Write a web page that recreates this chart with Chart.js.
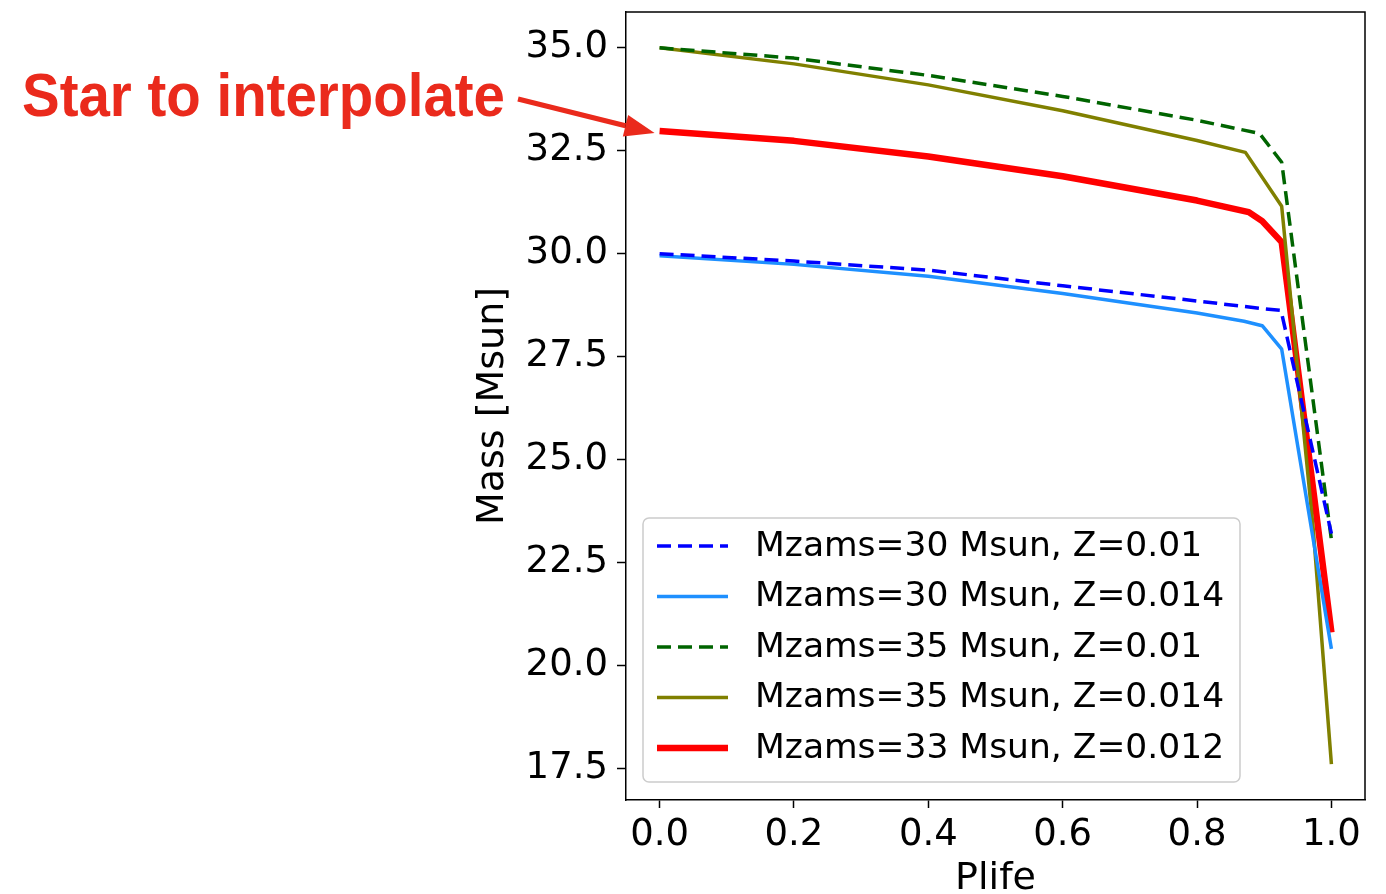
<!DOCTYPE html>
<html>
<head>
<meta charset="utf-8">
<script src="https://cdn.jsdelivr.net/npm/chart.js@4/dist/chart.umd.min.js"></script>
<style>
  html, body { margin: 0; padding: 0; background: #fff; }
  #wrap { width: 1386px; height: 894px; }
</style>
</head>
<body>
<div id="wrap"><canvas id="myChart" width="1386" height="894"></canvas></div>
<script>
// values
var labels = ['Mzams=30 Msun, Z=0.01', 'Mzams=30 Msun, Z=0.014', 'Mzams=35 Msun, Z=0.01', 'Mzams=35 Msun, Z=0.014', 'Mzams=33 Msun, Z=0.012'];

var plife30a = [0, 0.2, 0.4, 0.6, 0.8, 0.9, 0.925, 1.0];
var mass30a  = [30.0, 29.82, 29.6, 29.22, 28.85, 28.66, 28.62, 23.2];

var plife30b = [0, 0.2, 0.4, 0.6, 0.8, 0.87, 0.897, 0.926, 1.0];
var mass30b  = [29.95, 29.74, 29.45, 29.03, 28.56, 28.36, 28.25, 27.68, 20.4];

var plife35a = [0, 0.2, 0.4, 0.6, 0.8, 0.893, 0.926, 1.0];
var mass35a  = [35.0, 34.75, 34.33, 33.82, 33.24, 32.92, 32.22, 23.05];

var plife35b = [0, 0.2, 0.4, 0.6, 0.8, 0.872, 0.926, 0.973, 1.0];
var mass35b  = [35.0, 34.61, 34.1, 33.47, 32.75, 32.46, 31.15, 23.3, 17.6];

var plife33 = [0, 0.2, 0.4, 0.6, 0.8, 0.877, 0.897, 0.926, 1.0];
var mass33  = [32.98, 32.74, 32.36, 31.88, 31.29, 31.01, 30.79, 30.28, 20.8];

var xTicks = [0.0, 0.2, 0.4, 0.6, 0.8, 1.0];
var yTicks = [17.5, 20.0, 22.5, 25.0, 27.5, 30.0, 32.5, 35.0];

var noteText = 'Star to interpolate';

function pts(xs, ys){
    var out = [];
    for (var i = 0; i < xs.length; i++) out.push({x: xs[i], y: ys[i]});
    return out;
}

var tickFont = {family: 'DejaVu Sans', size: 37};
var titleFont = {family: 'DejaVu Sans', size: 38};
var padL = 470;

// top / right spines
var framePlugin = {
    id: 'frame',
    afterDraw: function(chart){
        var c = chart.ctx, a = chart.chartArea;
        c.save();
        c.strokeStyle = '#000';
        c.lineWidth = 1.5;
        c.beginPath();
        c.moveTo(a.left, a.top);
        c.lineTo(a.right, a.top);
        c.lineTo(a.right, a.bottom);
        c.stroke();
        c.restore();
    }
};

// legend box inside the axes, lower left
var legendPlugin = {
    id: 'boxLegend',
    afterDatasetsDraw: function(chart){
        var c = chart.ctx, a = chart.chartArea;
        var x0 = a.left + 17, w = 597, h = 264;
        var y0 = a.bottom - 18 - h;
        c.save();
        c.fillStyle = 'rgba(255,255,255,0.8)';
        c.strokeStyle = '#cccccc';
        c.lineWidth = 1.5;
        c.beginPath();
        c.roundRect(x0, y0, w, h, 6);
        c.fill();
        c.stroke();
        c.font = '34.5px "DejaVu Sans"';
        c.textBaseline = 'middle';
        c.fillStyle = '#000';
        chart.data.datasets.forEach(function(ds, i){
            var yy = y0 + 28 + i * 50.5;
            c.strokeStyle = ds.borderColor;
            c.lineWidth = ds.borderWidth;
            c.setLineDash(ds.borderDash || []);
            c.beginPath();
            c.moveTo(x0 + 14, yy);
            c.lineTo(x0 + 85, yy);
            c.stroke();
            c.setLineDash([]);
            c.fillText(ds.label, x0 + 112, yy + 1);
        });
        c.restore();
    }
};

// red note with arrow pointing at the interpolated star
var notePlugin = {
    id: 'note',
    afterDraw: function(chart){
        var c = chart.ctx;
        var tipX = chart.scales.x.getPixelForValue(plife33[0]) - 5;
        var tipY = chart.scales.y.getPixelForValue(mass33[0]) + 2;
        c.save();
        c.fillStyle = '#ea2a1c';
        c.strokeStyle = '#ea2a1c';
        c.font = 'bold 62px "Liberation Sans"';
        c.textBaseline = 'alphabetic';
        var tw = c.measureText(noteText).width;
        c.save();
        c.translate(22, 116);
        c.scale(483 / tw, 1);
        c.fillText(noteText, 0, 0);
        c.restore();
        // arrow
        var sx = 518, sy = 99;
        var ang = Math.atan2(tipY - sy, tipX - sx);
        var hl = 30, hw = 11;
        var bx = tipX - hl * Math.cos(ang), by = tipY - hl * Math.sin(ang);
        c.lineWidth = 5;
        c.beginPath();
        c.moveTo(sx, sy);
        c.lineTo(bx, by);
        c.stroke();
        c.beginPath();
        c.moveTo(tipX, tipY);
        c.lineTo(bx + hw * Math.sin(ang), by - hw * Math.cos(ang));
        c.lineTo(bx - hw * Math.sin(ang), by + hw * Math.cos(ang));
        c.closePath();
        c.fill();
        c.restore();
    }
};

var ctx = document.getElementById('myChart').getContext('2d');
var chart = new Chart(ctx, {
    type: 'line',
    data: {
        datasets: [{
            label: labels[0],
            data: pts(plife30a, mass30a),
            borderColor: '#0000ff',
            borderWidth: 3.5,
            borderDash: [14, 7]
        },{
            label: labels[1],
            data: pts(plife30b, mass30b),
            borderColor: '#1e90ff',
            borderWidth: 3.5
        },{
            label: labels[2],
            data: pts(plife35a, mass35a),
            borderColor: '#006400',
            borderWidth: 3.5,
            borderDash: [14, 7]
        },{
            label: labels[3],
            data: pts(plife35b, mass35b),
            borderColor: '#808000',
            borderWidth: 3.5
        },{
            label: labels[4],
            data: pts(plife33, mass33),
            borderColor: '#ff0000',
            borderWidth: 6.5
        }]
    },
    options: {
        responsive: false,
        animation: false,
        elements: {
            point: {radius: 0},
            line: {tension: 0, fill: false, borderJoinStyle: 'round', borderCapStyle: 'butt'}
        },
        layout: {padding: {left: padL, right: 21, top: 12, bottom: 0}},
        plugins: {
            legend: {display: false},
            tooltip: {enabled: false}
        },
        scales: {
            x: {
                type: 'linear',
                min: -0.05,
                max: 1.05,
                afterBuildTicks: function(s){ s.ticks = xTicks.map(function(v){ return {value: v}; }); },
                afterFit: function(s){ s.height = 94; s.paddingLeft = 0; s.paddingRight = 0; },
                ticks: {
                    callback: function(v){ return v.toFixed(1); },
                    font: tickFont, color: '#000', padding: 5,
                    maxRotation: 0, autoSkip: false
                },
                grid: {drawOnChartArea: false, drawTicks: true, tickLength: 8, color: '#000', tickWidth: 1.5},
                border: {display: true, color: '#000', width: 1.5},
                title: {display: true, text: 'Plife', font: titleFont, color: '#000', padding: {top: 0, bottom: -8}}
            },
            y: {
                type: 'linear',
                min: 16.73,
                max: 35.87,
                afterBuildTicks: function(s){ s.ticks = yTicks.map(function(v){ return {value: v}; }); },
                afterFit: function(s){ s.width = 626 - padL; s.paddingTop = 0; s.paddingBottom = 0; },
                ticks: {
                    callback: function(v){ return v.toFixed(1); },
                    font: tickFont, color: '#000', padding: 9, autoSkip: false
                },
                grid: {drawOnChartArea: false, drawTicks: true, tickLength: 9, color: '#000', tickWidth: 1.5},
                border: {display: true, color: '#000', width: 1.5},
                title: {display: true, text: 'Mass [Msun]', font: titleFont, color: '#000', padding: {top: 0, bottom: 0}}
            }
        }
    },
    plugins: [framePlugin, legendPlugin, notePlugin]
});
</script>
</body>
</html>
